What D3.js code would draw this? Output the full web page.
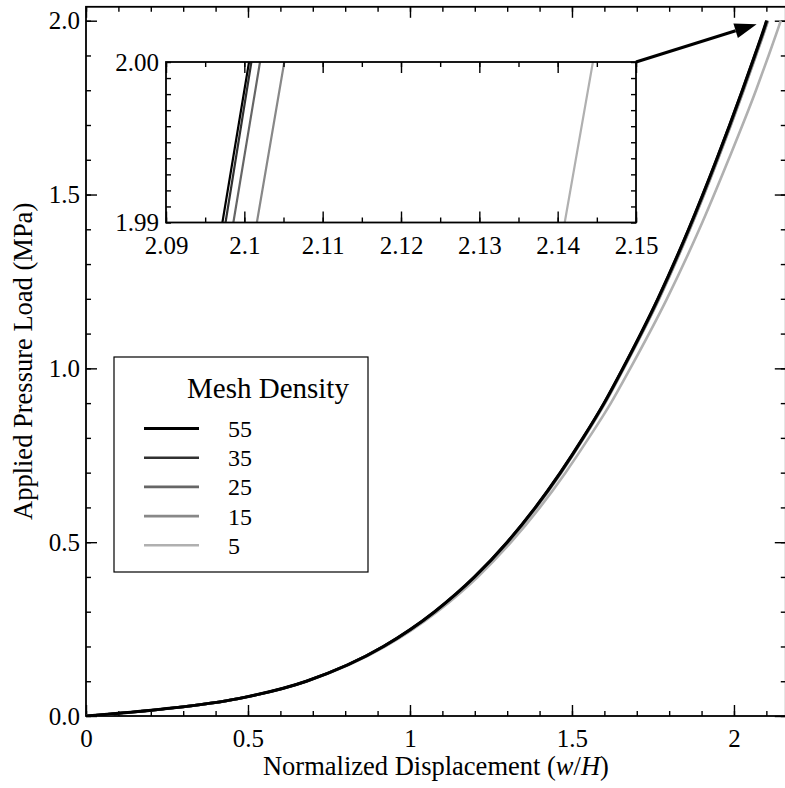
<!DOCTYPE html>
<html>
<head>
<meta charset="utf-8">
<script src="https://cdn.jsdelivr.net/npm/d3@7/dist/d3.min.js"></script>
<style>
  html, body { margin: 0; padding: 0; background: #fff; }
  svg { display: block; }
</style>
</head>
<body>
<svg id="chart" width="785" height="788"></svg>
<script>
// ---------------- data ----------------
const loadLevels = [0, 0.02, 0.05, 0.1, 0.2, 0.3, 0.4, 0.5, 0.6, 0.7, 0.8, 0.9, 1.0, 1.2, 1.4, 1.6, 1.8, 1.9, 1.99, 2.0];
const disp55 = [0, 0.238, 0.470, 0.680, 0.918, 1.076, 1.199, 1.300, 1.387, 1.464, 1.534, 1.599, 1.657, 1.765, 1.860, 1.946, 2.026, 2.064, 2.0972, 2.1006];
const disp35 = [0, 0.238, 0.470, 0.680, 0.918, 1.076, 1.199, 1.300, 1.387, 1.464, 1.534, 1.599, 1.657, 1.765, 1.860, 1.946, 2.026, 2.064, 2.0976, 2.1009];
const disp25 = [0, 0.238, 0.470, 0.680, 0.918, 1.077, 1.200, 1.301, 1.388, 1.465, 1.535, 1.600, 1.658, 1.766, 1.861, 1.947, 2.027, 2.065, 2.0986, 2.1020];
const disp15 = [0, 0.238, 0.471, 0.681, 0.920, 1.078, 1.201, 1.303, 1.390, 1.467, 1.537, 1.602, 1.660, 1.769, 1.864, 1.950, 2.030, 2.068, 2.1016, 2.1051];
const disp5  = [0, 0.239, 0.472, 0.683, 0.924, 1.084, 1.209, 1.312, 1.401, 1.480, 1.552, 1.620, 1.680, 1.793, 1.893, 1.983, 2.068, 2.107, 2.1409, 2.1445];

const meshLabels = ["55", "35", "25", "15", "5"];
const meshDisp = [disp55, disp35, disp25, disp15, disp5];
const meshColors = ["#000000", "#303030", "#666666", "#888888", "#b0b0b0"];
const meshWidths = [3, 2.6, 2.6, 2.6, 2.6];

const xTickValues = [0, 0.5, 1, 1.5, 2];
const xTickLabels = ["0", "0.5", "1", "1.5", "2"];
const yTickValues = [0, 0.5, 1.0, 1.5, 2.0];
const yTickLabels = ["0.0", "0.5", "1.0", "1.5", "2.0"];
const insetXTickValues = [2.09, 2.10, 2.11, 2.12, 2.13, 2.14, 2.15];
const insetXTickLabels = ["2.09", "2.1", "2.11", "2.12", "2.13", "2.14", "2.15"];
const insetYTickValues = [1.99, 2.00];
const insetYTickLabels = ["1.99", "2.00"];

const xLabelMain = "Normalized Displacement (";
const yLabel = "Applied Pressure Load (MPa)";
const legendTitle = "Mesh Density";
const arrowTip = {w: 2.07, p: 1.99};

const SERIF = '"Liberation Serif", "Times New Roman", Times, serif';

// ---------------- layout ----------------
const svg = d3.select("#chart");
const L = 86, R = 785.8, T = 6.8, B = 716;
const x = d3.scaleLinear().domain([0, 2.16]).range([L, R]);
const y = d3.scaleLinear().domain([0, 2.04]).range([B, T]);

const IL = 166, IR = 636, IT = 62, IB = 222.5;
const xi = d3.scaleLinear().domain([2.09, 2.15]).range([IL, IR]);
const yi = d3.scaleLinear().domain([1.99, 2.00]).range([IB, IT]);

const defs = svg.append("defs");
defs.append("clipPath").attr("id", "clipMain")
  .append("rect").attr("x", L).attr("y", T).attr("width", R - L).attr("height", B - T);
defs.append("clipPath").attr("id", "clipInset")
  .append("rect").attr("x", IL).attr("y", IT).attr("width", IR - IL).attr("height", IB - IT);

const fs = 25;

const xMinor = d3.range(0, 2.16 + 1e-9, 0.1).map(v => +v.toFixed(2));
const yMinor = d3.range(0, 2.04 + 1e-9, 0.1).map(v => +v.toFixed(2));

function styleAxis(g) {
  g.attr("font-family", SERIF).attr("font-size", fs);
  g.select(".domain").remove();
  g.selectAll(".tick line").attr("stroke", "#000").attr("stroke-width", 1.4);
  g.selectAll("text").style("font-family", SERIF)
    .style("font-size", fs + "px").attr("fill", "#000");
}

// main axes: bottom
svg.append("g").attr("transform", `translate(0,${B})`)
  .call(d3.axisBottom(x).tickValues(xMinor).tickSize(-5).tickFormat("")).call(styleAxis);
svg.append("g").attr("transform", `translate(0,${B})`)
  .call(d3.axisBottom(x).tickValues(xTickValues).tickSize(-11).tickPadding(13)
    .tickFormat((d, i) => xTickLabels[i])).call(styleAxis);
// top
svg.append("g").attr("transform", `translate(0,${T})`)
  .call(d3.axisTop(x).tickValues(xMinor).tickSize(-5).tickFormat("")).call(styleAxis);
svg.append("g").attr("transform", `translate(0,${T})`)
  .call(d3.axisTop(x).tickValues(xTickValues).tickSize(-11).tickFormat("")).call(styleAxis);
// left
svg.append("g").attr("transform", `translate(${L},0)`)
  .call(d3.axisLeft(y).tickValues(yMinor).tickSize(-5).tickFormat("")).call(styleAxis);
svg.append("g").attr("transform", `translate(${L},0)`)
  .call(d3.axisLeft(y).tickValues(yTickValues).tickSize(-11).tickPadding(6)
    .tickFormat((d, i) => yTickLabels[i])).call(styleAxis);
// right
svg.append("g").attr("transform", `translate(${R},0)`)
  .call(d3.axisRight(y).tickValues(yMinor).tickSize(-5).tickFormat("")).call(styleAxis);
svg.append("g").attr("transform", `translate(${R},0)`)
  .call(d3.axisRight(y).tickValues(yTickValues).tickSize(-11).tickFormat("")).call(styleAxis);

// main frame
svg.append("rect").attr("x", L).attr("y", T).attr("width", R - L).attr("height", B - T)
  .attr("fill", "none").attr("stroke", "#000").attr("stroke-width", 1.8);

// series lines main
const order = [4, 3, 2, 1, 0];
const lineMain = d3.line().curve(d3.curveMonotoneX);
const gMain = svg.append("g").attr("clip-path", "url(#clipMain)");
order.forEach(i => {
  const pts = loadLevels.map((p, k) => [x(meshDisp[i][k]), y(p)]);
  gMain.append("path").attr("d", lineMain(pts)).attr("fill", "none")
    .attr("stroke", meshColors[i]).attr("stroke-width", meshWidths[i])
    .attr("stroke-linejoin", "round");
});

// axis titles
const xt = svg.append("text").attr("x", (L + R) / 2).attr("y", 775)
  .attr("text-anchor", "middle").style("font-family", SERIF).style("font-size", "26.5px");
xt.append("tspan").text(xLabelMain);
xt.append("tspan").style("font-style", "italic").text("w");
xt.append("tspan").text("/");
xt.append("tspan").style("font-style", "italic").text("H");
xt.append("tspan").text(")");

svg.append("text").attr("transform", `translate(32,${(T + B) / 2}) rotate(-90)`)
  .attr("text-anchor", "middle").style("font-family", SERIF).style("font-size", "26.5px").text(yLabel);

// ---------------- inset ----------------
svg.append("rect").attr("x", IL).attr("y", IT).attr("width", IR - IL).attr("height", IB - IT)
  .attr("fill", "#fff");
const gInset = svg.append("g").attr("clip-path", "url(#clipInset)");
const lineInset = d3.line().curve(d3.curveLinear);
order.forEach(i => {
  const pts = loadLevels.map((p, k) => [xi(meshDisp[i][k]), yi(p)]);
  gInset.append("path").attr("d", lineInset(pts)).attr("fill", "none")
    .attr("stroke", meshColors[i]).attr("stroke-width", 2.2);
});

const xiMinor = d3.range(2.09, 2.15 + 1e-9, 0.005).map(v => +v.toFixed(3));
const yiMinor = d3.range(1.99, 2.00 + 1e-9, 0.001).map(v => +v.toFixed(3));

svg.append("g").attr("transform", `translate(0,${IB})`)
  .call(d3.axisBottom(xi).tickValues(xiMinor).tickSize(-5).tickFormat("")).call(styleAxis);
svg.append("g").attr("transform", `translate(0,${IB})`)
  .call(d3.axisBottom(xi).tickValues(insetXTickValues).tickSize(-11).tickPadding(14)
    .tickFormat((d, i) => insetXTickLabels[i])).call(styleAxis);
svg.append("g").attr("transform", `translate(0,${IT})`)
  .call(d3.axisTop(xi).tickValues(xiMinor).tickSize(-5).tickFormat("")).call(styleAxis);
svg.append("g").attr("transform", `translate(0,${IT})`)
  .call(d3.axisTop(xi).tickValues(insetXTickValues).tickSize(-11).tickFormat("")).call(styleAxis);
svg.append("g").attr("transform", `translate(${IL},0)`)
  .call(d3.axisLeft(yi).tickValues(yiMinor).tickSize(-5).tickFormat("")).call(styleAxis);
svg.append("g").attr("transform", `translate(${IL},0)`)
  .call(d3.axisLeft(yi).tickValues(insetYTickValues).tickSize(0).tickPadding(7)
    .tickFormat((d, i) => insetYTickLabels[i])).call(styleAxis);
svg.append("g").attr("transform", `translate(${IR},0)`)
  .call(d3.axisRight(yi).tickValues(yiMinor).tickSize(-5).tickFormat("")).call(styleAxis);

svg.append("rect").attr("x", IL).attr("y", IT).attr("width", IR - IL).attr("height", IB - IT)
  .attr("fill", "none").attr("stroke", "#000").attr("stroke-width", 1.8);

// arrow from inset corner to the curve end
const ax0 = xi(2.15), ay0 = yi(2.00);
const ax1 = x(arrowTip.w), ay1 = y(arrowTip.p);
const ang = Math.atan2(ay1 - ay0, ax1 - ax0);
const headLen = 22, headHalf = 7.5;
const bx = ax1 - headLen * Math.cos(ang), by = ay1 - headLen * Math.sin(ang);
svg.append("line").attr("x1", ax0).attr("y1", ay0).attr("x2", bx).attr("y2", by)
  .attr("stroke", "#000").attr("stroke-width", 3);
svg.append("path")
  .attr("d", d3.line()([
    [ax1, ay1],
    [bx + headHalf * Math.sin(ang), by - headHalf * Math.cos(ang)],
    [bx - headHalf * Math.sin(ang), by + headHalf * Math.cos(ang)]
  ]) + "Z")
  .attr("fill", "#000");

// ---------------- legend ----------------
const lg = svg.append("g").style("font-family", SERIF);
lg.append("rect").attr("x", 114).attr("y", 357).attr("width", 254).attr("height", 215)
  .attr("fill", "#fff").attr("stroke", "#000").attr("stroke-width", 1.2);
lg.append("text").attr("x", 187).attr("y", 398).style("font-family", SERIF)
  .style("font-size", "29px").text(legendTitle);
meshLabels.forEach((lab, i) => {
  const ry = 428.5 + i * 29.2;
  lg.append("line").attr("x1", 144).attr("x2", 199).attr("y1", ry).attr("y2", ry)
    .attr("stroke", meshColors[i]).attr("stroke-width", meshWidths[i]);
  lg.append("text").attr("x", 228).attr("y", ry).attr("dy", "0.35em")
    .style("font-family", SERIF).style("font-size", "24px").text(lab);
});
</script>
</body>
</html>
